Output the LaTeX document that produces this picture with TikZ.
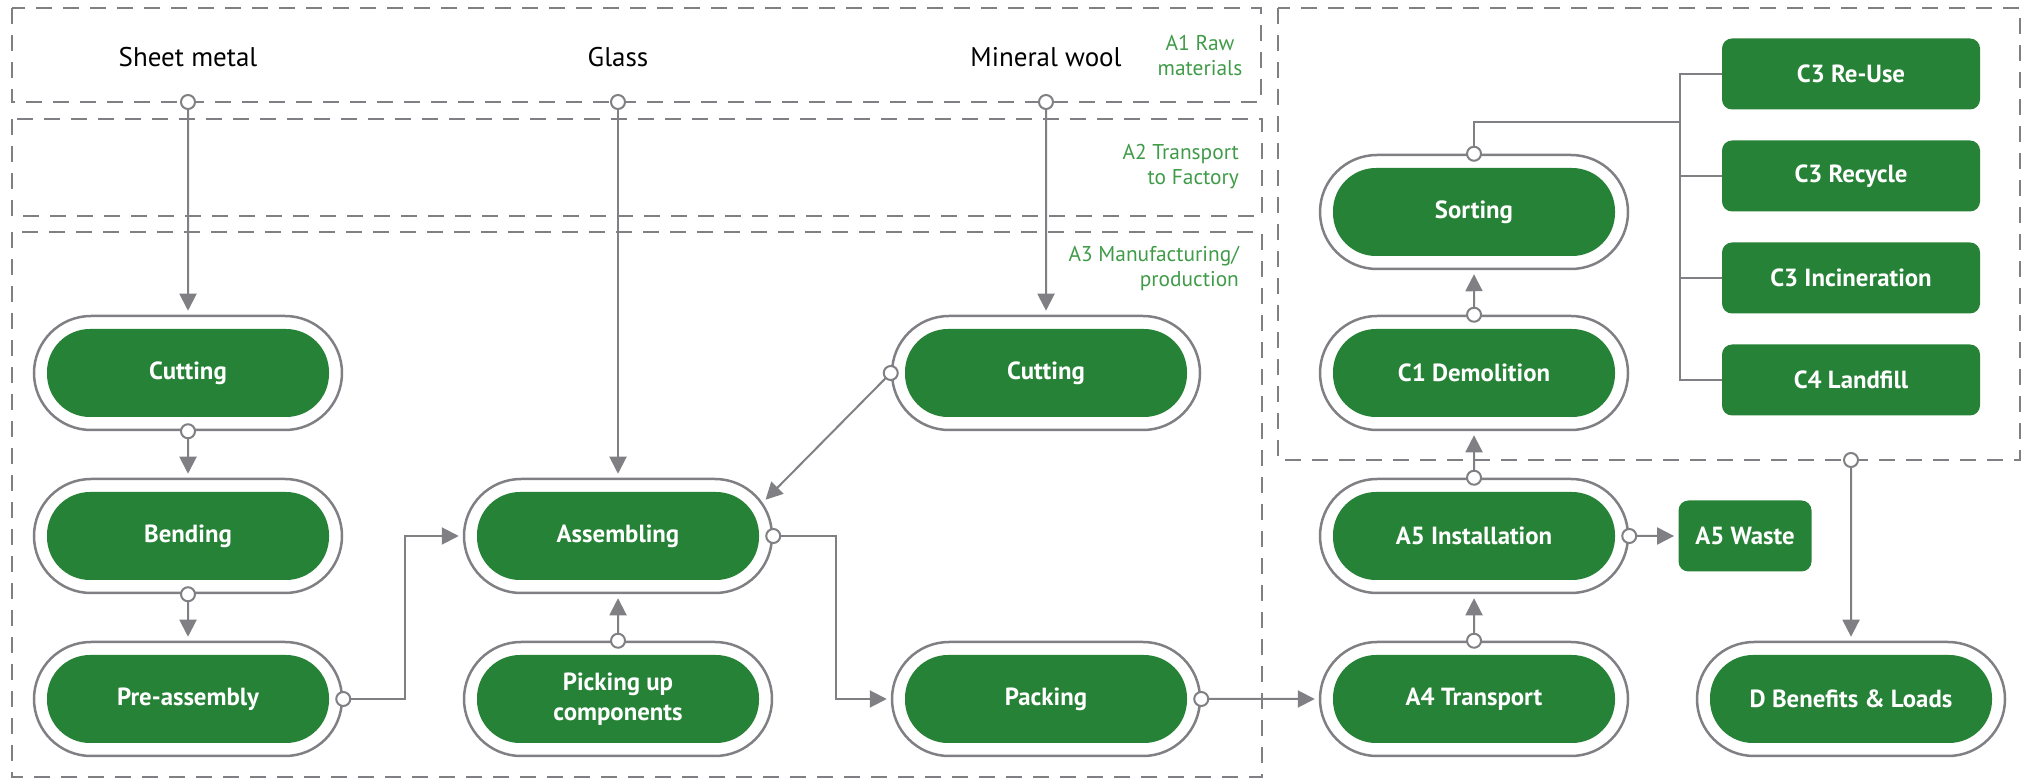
\documentclass[tikz,border=0pt]{standalone}
\usepackage{fontspec}
\setmainfont{PT Sans}
\usetikzlibrary{arrows.meta,shapes.misc}

\definecolor{stagegreen}{HTML}{268236}
\definecolor{phasegreen}{HTML}{409B48}
\definecolor{linegray}{HTML}{808084}

\tikzset{
  stage/.style={rounded rectangle, draw=linegray, line width=1.25pt, fill=white,
    minimum width=154pt, minimum height=57pt, inner sep=0pt,
    text=white, align=center, font=\bfseries\fontsize{12.4}{15}\selectfont,
    path picture={\fill[stagegreen, rounded corners=21.5pt]
      ([shift={(6.5pt,6.5pt)}]path picture bounding box.south west) rectangle
      ([shift={(-6.5pt,-6.5pt)}]path picture bounding box.north east);}},
  endbox/.style={rectangle, fill=stagegreen, rounded corners=5pt,
    minimum width=129pt, minimum height=35.5pt, inner sep=0pt,
    text=white, font=\bfseries\fontsize{12.4}{15}\selectfont},
  zone/.style={draw=linegray, line width=1.25pt, dash pattern=on 8pt off 5.5pt},
  material/.style={font=\fontsize{13.5}{16}\selectfont},
  phase/.style={text=phasegreen, align=right, anchor=east,
    font=\fontsize{10.7}{12.5}\selectfont},
  tree/.style={draw=linegray, line width=1pt},
  port/.style={{Circle[fill=white,length=8pt,width=8pt]}-, shorten <=-4pt},
  link/.style={tree, {Circle[fill=white,length=8pt,width=8pt]}-{Triangle[length=8.5pt,width=8.5pt]},
    shorten <=-4pt, shorten >=2pt}
}

\begin{document}
\begin{tikzpicture}[x=0.5pt, y=-0.5pt]
        \useasboundingbox (0,0) rectangle (2029,779);
        % life cycle zones
        \draw[zone] (12,8) rectangle (1261,102);
        \draw[zone] (12,119) rectangle (1262,216);
        \draw[zone] (12,232) rectangle (1262,777);
        \draw[zone] (1278,8) rectangle (2020,460);
        \node[phase, align=center, anchor=center] (a1) at (1200,56) {A1 Raw\\materials};
        \node[phase] (a2) at (1246,167) {A2 Transport\\to Factory};
        \node[phase] (a3) at (1246,269) {A3 Manufacturing/\\production};

        % raw materials
        \node[material] (sheet) at (188,57) {Sheet metal};
        \node[material] (glass) at (618,57) {Glass};
        \node[material] (wool) at (1046,57) {Mineral wool};
        \coordinate (in1) at (188,102);
        \coordinate (in2) at (618,102);
        \coordinate (in3) at (1046,102);

        % manufacturing
        \node[stage] (cut1) at (188,373) {Cutting};
        \node[stage] (bend) at (188,536) {Bending};
        \node[stage] (pre) at (188,699) {Pre-assembly};
        \node[stage] (asm) at (618,536) {Assembling};
        \node[stage] (pick) at (618,699) {Picking up\\components};
        \node[stage] (cut2) at (1046,373) {Cutting};
        \node[stage] (pack) at (1046,699) {Packing};

        % transport, installation, end of life
        \node[stage] (trans) at (1474,699) {A4 Transport};
        \node[stage] (inst) at (1474,536) {A5 Installation};
        \node[endbox, minimum width=66.5pt] (waste) at (1745,536) {A5 Waste};
        \node[stage] (demo) at (1474,373) {C1 Demolition};
        \node[stage] (sort) at (1474,212) {Sorting};
        \node[endbox] (reuse) at (1851,74) {C3 Re-Use};
        \node[endbox] (recycle) at (1851,176) {C3 Recycle};
        \node[endbox] (incin) at (1851,278) {C3 Incineration};
        \node[endbox] (landfill) at (1851,380) {C4 Landfill};
        \node[stage] (dben) at (1851,699) {D Benefits \& Loads};
        \coordinate (cout) at (1851,460);
        \coordinate (bus) at (1680,122);

        % flows
        \draw[link] (in1) -- (cut1);
        \draw[link] (in2) -- (asm);
        \draw[link] (in3) -- (cut2);
        \draw[link] (cut1) -- (bend);
        \draw[link] (bend) -- (pre);
        \draw[link] (pre.east) -- ++(62,0) |- (asm.west);
        \draw[link] (cut2.west) -- (asm.13);
        \draw[link] (pick) -- (asm);
        \draw[link] (asm.east) -- ++(63,0) |- (pack.west);
        \draw[link] (pack) -- (trans);
        \draw[link] (trans) -- (inst);
        \draw[link] (inst) -- (demo);
        \draw[link] (demo) -- (sort);
        \draw[link] (inst) -- (waste);
        \draw[link] (cout) -- (dben);
        \foreach \b in {reuse,recycle,incin,landfill}
            \draw[tree] (bus) |- (\b.west);
        \draw[tree, port] (sort.north) |- (bus);
    \end{tikzpicture}
\end{document}
